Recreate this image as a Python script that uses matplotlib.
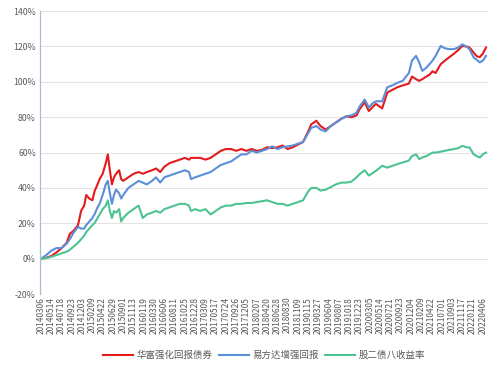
import matplotlib
matplotlib.use('Agg')
import matplotlib.pyplot as plt
import numpy as np

plt.rcParams['font.family'] = ['Noto Sans CJK SC', 'DejaVu Sans']

dates = ['20140306', '20140514', '20140718', '20140923', '20141203', '20150209',
         '20150422', '20150629', '20150901', '20151113', '20160119', '20160330',
         '20160606', '20160811', '20161025', '20161228', '20170309', '20170517',
         '20170724', '20170926', '20171205', '20180207', '20180420', '20180628',
         '20180830', '20181109', '20190115', '20190327', '20190604', '20190807',
         '20191018', '20191223', '20200305', '20200514', '20200721', '20200923',
         '20201204', '20210209', '20210422', '20210701', '20210903', '20211117',
         '20220121', '20220406']

# position along the date axis (in units of tick labels)
pos = [0, 0.5, 1, 1.5, 2, 2.5, 2.8, 3.2, 3.6, 3.9, 4.2, 4.4, 4.7, 5.0, 5.2, 5.5,
       5.7, 6.0, 6.3, 6.5, 6.7, 6.9, 7.1, 7.3, 7.6, 7.8, 8.0, 8.5, 9.0, 9.5, 9.9,
       10.3, 10.8, 11.2, 11.6, 12.0, 12.5, 13.0, 13.5, 14.0, 14.4, 14.6, 15.0,
       15.5, 16.0, 16.5, 17.0, 17.5, 18.0, 18.5, 19.0, 19.5, 20.0, 20.5, 21.0,
       21.5, 22.0, 22.5, 23.0, 23.5, 24.0, 24.5, 25.0, 25.5, 26.0, 26.3, 26.8,
       27.2, 27.7, 28.2, 28.7, 29.2, 29.7, 30.2, 30.7, 31.0, 31.5, 31.9, 32.3,
       32.6, 33.2, 33.7, 34.2, 34.7, 35.2, 35.8, 36.1, 36.5, 36.8, 37.1, 37.5,
       37.8, 38.1, 38.4, 38.9, 39.3, 39.7, 40.2, 40.6, 41.0, 41.4, 41.7, 42.1,
       42.4, 42.7, 43.0, 43.3]

huafu = [0, 0.5, 1.5, 3.5, 6, 9, 14, 16, 19, 27, 30, 36, 34, 33, 38, 42,
         45, 48, 54, 59, 50, 42, 46, 48, 50, 45, 44, 46, 48, 49, 48,
         49, 50, 51, 49, 52, 54, 55, 56, 57, 56, 57, 57,
         57, 56, 57, 59, 61, 62, 62, 61, 62, 61, 62, 61,
         61.5, 63, 62.5, 63, 64, 62, 63, 64.5, 66, 72, 76, 78,
         75, 73, 75, 77, 79, 80.5, 80, 81, 84.5, 88.5, 83.5, 86,
         87.5, 85, 94, 95.5, 97, 98, 99, 103, 101.5, 100.6, 101.5, 103,
         104, 106, 105, 110, 112, 113.8, 116, 118, 120.3, 120, 119.4, 116.6,
         114.5, 114, 116, 119.4]

yifangda = [0, 2, 4.5, 6, 6, 8.5, 11, 15, 18, 17, 17, 19, 21, 23, 25, 29,
            31, 36, 42, 44, 37, 31, 36, 39, 37, 34, 36, 40, 42, 44, 43,
            42, 44, 46, 43, 46, 47, 48, 49, 50, 49, 45, 46,
            47, 48, 49, 51, 53, 54, 55, 57, 59, 59, 61, 60,
            61, 62, 63.5, 62, 63, 63.5, 64, 65, 66, 71, 74, 75,
            73, 72, 75, 77, 79, 80.5, 81, 82.5, 86, 90, 85.5, 88,
            89, 89, 97, 98, 99.5, 100.6, 105, 112, 114.7, 111, 106.2, 108,
            110, 112, 114.7, 120.3, 119, 118.5, 118.5, 119.5, 121.2, 120, 118.5, 113.8,
            112.5, 111, 112, 114.7]

gu2zhai8 = [0, 0.3, 1, 2, 3, 4, 5, 7, 9, 11, 13, 15, 17, 19, 20, 23,
            25, 28, 30, 33, 27, 23, 27, 26, 28, 21, 23, 26, 28, 30, 23,
            25, 26, 27, 26, 28, 29, 30, 31, 31, 30, 27, 28,
            27, 28, 25, 27, 29, 30, 30, 31, 31, 31.5, 31.5, 32,
            32.5, 33, 32, 31, 31, 30, 31, 32, 33, 38, 40, 40,
            38.5, 39, 40.5, 42, 43, 43, 43.5, 46, 47.8, 50, 47, 48.5,
            49.7, 52.5, 51.5, 52.5, 53.5, 54.4, 55.5, 58, 59, 56.3, 57.2, 58,
            59, 60, 60, 60.5, 61, 61.5, 62, 62.5, 63.8, 63, 62.9, 59,
            58, 57.2, 59, 60]

names = ['华富强化回报债券', '易方达增强回报', '股二债八收益率']
colors = ['#e41a1c', '#5b8fd9', '#4dc392']

fig = plt.figure(figsize=(5, 3.71), dpi=100)
ax = fig.add_axes([0.08, 0.2075, 0.896, 0.7625])

for vals, name, c in zip([huafu, yifangda, gu2zhai8], names, colors):
    ax.plot(pos, vals, color=c, lw=1.5, label=name)

ax.set_xlim(-0.1, 43.5)
ax.set_ylim(-20, 140)
ax.set_yticks(np.arange(-20, 141, 20))
ax.set_yticklabels([f'{v}%' for v in range(-20, 141, 20)])
ax.set_xticks(range(len(dates)))
ax.set_xticklabels(dates, rotation=90)
ax.tick_params(axis='both', length=0, labelsize=6.3, labelcolor='#595959', pad=3)
ax.tick_params(axis='x', labelsize=6.0, pad=2)
ax.grid(axis='y', color='#e3e3e3', lw=0.8)
ax.set_axisbelow(True)
for s in ['top', 'right', 'bottom']:
    ax.spines[s].set_visible(False)
ax.spines['left'].set_color('#a9bdd0')
ax.spines['left'].set_linewidth(0.9)

ax.legend(loc='upper center', bbox_to_anchor=(0.5, -0.17), ncol=3, frameon=False,
          fontsize=6.8, handlelength=3.2, columnspacing=0.6, handletextpad=0.4,
          labelcolor='#595959')

fig.savefig('out.png', facecolor='w')
